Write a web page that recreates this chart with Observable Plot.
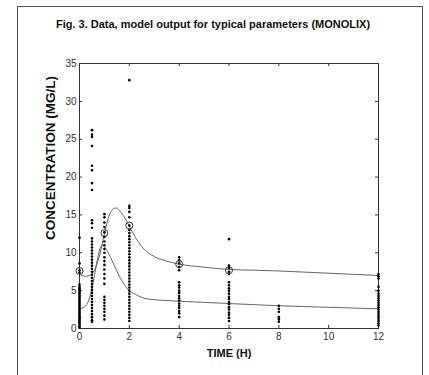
<!DOCTYPE html>
<html><head><meta charset="utf-8">
<script src="https://cdn.jsdelivr.net/npm/d3@7"></script>
<script src="https://cdn.jsdelivr.net/npm/@observablehq/plot@0.6"></script>
<style>
body{margin:0;background:#fff;width:429px;height:375px;overflow:hidden;position:relative;font-family:"Liberation Sans",Arial,sans-serif}
#box{position:absolute;left:17px;top:6px;width:404px;height:400px;border:1px solid #555;border-bottom:none}
#title{position:absolute;left:17px;width:392px;top:18px;text-align:center;font-weight:bold;font-size:11px;color:#111}
#chart{position:absolute;left:0;top:0}
#chart svg{overflow:visible}
#chart [aria-label="x-axis tick label"], #chart [aria-label="y-axis tick label"]{font-family:"Liberation Sans Narrow","Liberation Sans",Arial,sans-serif;font-size:10px;fill:#333}
#chart [aria-label="x-axis label"]{font-family:"Liberation Sans",Arial,sans-serif;font-size:11px;font-weight:bold;fill:#111}
</style></head><body>
<div id="box"></div>
<div id="title">Fig. 3. Data, model output for typical parameters (MONOLIX)</div>
<div id="chart"></div>
<script>
// Observed concentrations (mg/L) at each sampling time (h)
const times = [0, 0.5, 1, 2, 4, 6, 8, 12];
const conc_t0 = [12.0, 8.6, 7.7, 7.4, 5.8, 5.5, 5.3, 5.1, 4.9, 4.7, 4.5, 4.3, 4.1, 3.9, 3.7, 3.5, 3.3, 3.1, 2.9, 2.7, 2.5, 2.3, 2.1, 1.9, 1.7, 1.5, 1.3, 1.1, 0.9, 0.7, 0.5, 0.3, 0.1];
const conc_t05 = [26.2, 25.6, 25.3, 24.1, 21.5, 20.9, 19.2, 18.3, 14.3, 13.9, 13.3, 11.9, 11.5, 11.1, 10.7, 10.3, 9.9, 9.5, 9.1, 8.7, 8.3, 7.9, 7.5, 7.1, 6.7, 6.3, 5.9, 5.5, 5.1, 4.7, 4.3, 3.9, 3.5, 3.1, 2.7, 2.3, 1.9, 1.5, 1.1, 0.9];
const conc_t1 = [15.1, 14.7, 14.0, 13.4, 12.7, 12.1, 11.5, 11.0, 10.5, 10.0, 9.4, 8.9, 8.4, 7.8, 7.2, 6.6, 5.9, 4.2, 3.8, 3.4, 3.0, 2.6, 2.2, 1.7, 1.2];
const conc_t2 = [32.8, 16.2, 15.9, 15.4, 14.7, 13.6, 13.0, 12.6, 12.2, 11.8, 11.4, 11.0, 10.6, 10.2, 9.8, 9.4, 9.0, 8.6, 8.2, 7.8, 7.4, 7.0, 6.6, 6.2, 5.8, 5.4, 5.0, 4.6, 4.2, 3.8, 3.4, 3.0, 2.6, 2.2, 1.8, 1.4, 1.0];
const conc_t4 = [9.4, 9.0, 8.6, 8.1, 7.7, 6.1, 5.7, 5.4, 5.0, 4.7, 4.3, 4.0, 3.7, 3.3, 3.0, 2.7, 2.3, 2.0, 1.5];
const conc_t6 = [11.8, 8.3, 8.0, 7.5, 7.2, 6.1, 5.7, 5.3, 5.0, 4.6, 4.2, 3.9, 3.5, 3.2, 2.8, 2.5, 2.1, 1.8, 1.4, 1.0];
const conc_t8 = [3.0, 2.6, 2.2, 1.5, 1.2, 0.9];
const conc_t12 = [7.2, 6.9, 6.6, 5.5, 5.0, 4.6, 4.3, 4.0, 3.7, 3.4, 3.1, 2.8, 2.5, 2.2, 1.9, 1.6, 1.3, 1.0, 0.7, 0.4];

// Means of observations (circled)
const meanTimes = [0, 1, 2, 4, 6];
const meanConc = [7.6, 12.6, 13.6, 8.5, 7.7];

// Model predictions for typical parameters
const modelTime = [0, 0.1, 0.25, 0.4, 0.5, 0.6, 0.75, 0.9, 1.0, 1.1, 1.2, 1.3, 1.4, 1.5, 1.6, 1.8, 2.0, 2.25, 2.5, 3.0, 3.5, 4.0, 5.0, 6.0, 7.0, 8.0, 9.0, 10.0, 11.0, 12.0];
const modelUpper = [7.2, 7.0, 6.9, 7.0, 7.2, 7.7, 9.0, 11.0, 12.6, 13.9, 15.0, 15.6, 15.9, 15.9, 15.6, 14.7, 13.5, 12.0, 10.8, 9.5, 8.9, 8.5, 8.1, 7.8, 7.7, 7.6, 7.45, 7.3, 7.15, 7.0];
const modelLower = [2.6, 2.7, 3.0, 4.0, 5.3, 7.0, 9.6, 11.0, 10.8, 10.3, 9.7, 9.0, 8.3, 7.6, 6.9, 5.8, 5.0, 4.5, 4.1, 3.8, 3.7, 3.6, 3.45, 3.3, 3.15, 3.0, 2.9, 2.8, 2.7, 2.6];

const xTicks = [0, 2, 4, 6, 8, 10, 12];
const yTicks = [0, 5, 10, 15, 20, 25, 30, 35];
const xLabel = "TIME (H)";
const yLabel = "CONCENTRATION (MG/L)";

const obsColumns = [conc_t0, conc_t05, conc_t1, conc_t2, conc_t4, conc_t6, conc_t8, conc_t12];
const obs = obsColumns.flatMap((col, i) => col.map(c => ({t: times[i], c})));
const means = meanTimes.map((t, i) => ({t, c: meanConc[i]}));
const model = modelTime.flatMap((t, i) => [
  {t, c: modelUpper[i], s: "upper"},
  {t, c: modelLower[i], s: "lower"}
]);

const W = 429, H = 375, mL = 79, mR = 51, mT = 63, mB = 47;
const pw = W - mL - mR, ph = H - mT - mB;
const tk = 3;

const chart = Plot.plot({
  width: W, height: H,
  marginLeft: mL, marginRight: mR, marginTop: mT, marginBottom: mB,
  style: {background: "transparent", fontFamily: "Liberation Sans, Arial, sans-serif"},
  x: {domain: [0, 12]},
  y: {domain: [0, 35]},
  marks: [
    Plot.frame({stroke: "#333", strokeWidth: 1}),
    Plot.tickX(xTicks, {x: d => d, insetTop: ph - tk, stroke: "#333"}),
    Plot.tickX(xTicks, {x: d => d, insetBottom: ph - tk, stroke: "#333"}),
    Plot.tickY(yTicks, {y: d => d, insetRight: pw - tk, stroke: "#333"}),
    Plot.tickY(yTicks, {y: d => d, insetLeft: pw - tk, stroke: "#333"}),
    Plot.axisX(xTicks, {tickSize: 0, tickPadding: 4, label: xLabel, labelAnchor: "center", labelOffset: 28, labelArrow: "none"}),
    Plot.axisY(yTicks, {tickSize: 0, tickPadding: 3, label: null}),
    Plot.text([yLabel], {text: d => d, frameAnchor: "left", dx: -29, dy: 44, rotate: -90, fontSize: 13.5, fontWeight: "bold", fill: "#111", fontFamily: "Liberation Sans, Arial, sans-serif"}),
    Plot.line(model, {x: "t", y: "c", z: "s", stroke: "#666", strokeWidth: 1, curve: "monotone-x"}),
    Plot.dot(obs, {x: "t", y: "c", r: 1.3, fill: "#000", stroke: "none"}),
    Plot.dot(means, {x: "t", y: "c", r: 3.5, fill: "none", stroke: "#333", strokeWidth: 1})
  ]
});
document.getElementById("chart").appendChild(chart);
</script>
</body></html>
